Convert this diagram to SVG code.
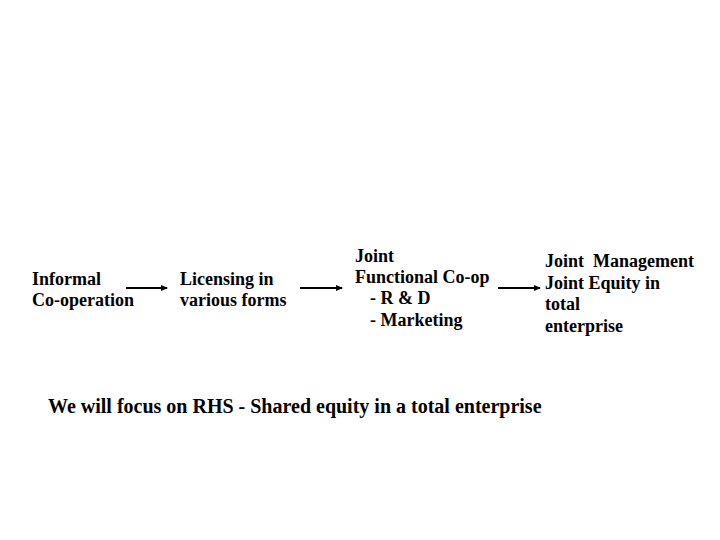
<svg xmlns="http://www.w3.org/2000/svg" width="720" height="540" viewBox="0 0 720 540">
<style>
text{font-family:"Liberation Serif","Times New Roman",serif;font-weight:bold;font-size:18px;fill:#000}
.big{font-size:20px}
.c line{stroke:#000;stroke-width:2}
</style>
<defs>
<marker id="ah" markerWidth="7" markerHeight="6" refX="6" refY="3" orient="auto" markerUnits="userSpaceOnUse">
<path d="M0,0 L7,3 L0,6 z" fill="#000"/>
</marker>
</defs>
<rect width="720" height="540" fill="#fff"/>
<g id="n1"><text x="32" y="285">Informal</text><text x="32" y="306">Co-operation</text></g>
<g id="n2"><text x="180" y="285">Licensing in</text><text x="180" y="306">various forms</text></g>
<g id="n3"><text x="355" y="262">Joint</text><text x="355" y="283">Functional Co-op</text><text x="370" y="304">- R &amp; D</text><text x="370" y="326">- Marketing</text></g>
<g id="n4"><text x="545" y="267">Joint&#160; Management</text><text x="545" y="289">Joint Equity in</text><text x="545" y="310">total</text><text x="545" y="332">enterprise</text></g>
<g class="c" id="connectors">
<line x1="126" y1="288" x2="167" y2="288" marker-end="url(#ah)"/>
<line x1="300" y1="288" x2="342" y2="288" marker-end="url(#ah)"/>
<line x1="498" y1="288" x2="540" y2="288" marker-end="url(#ah)"/>
</g>
<text class="big" x="48" y="413">We will focus on RHS - Shared equity in a total enterprise</text>
</svg>
